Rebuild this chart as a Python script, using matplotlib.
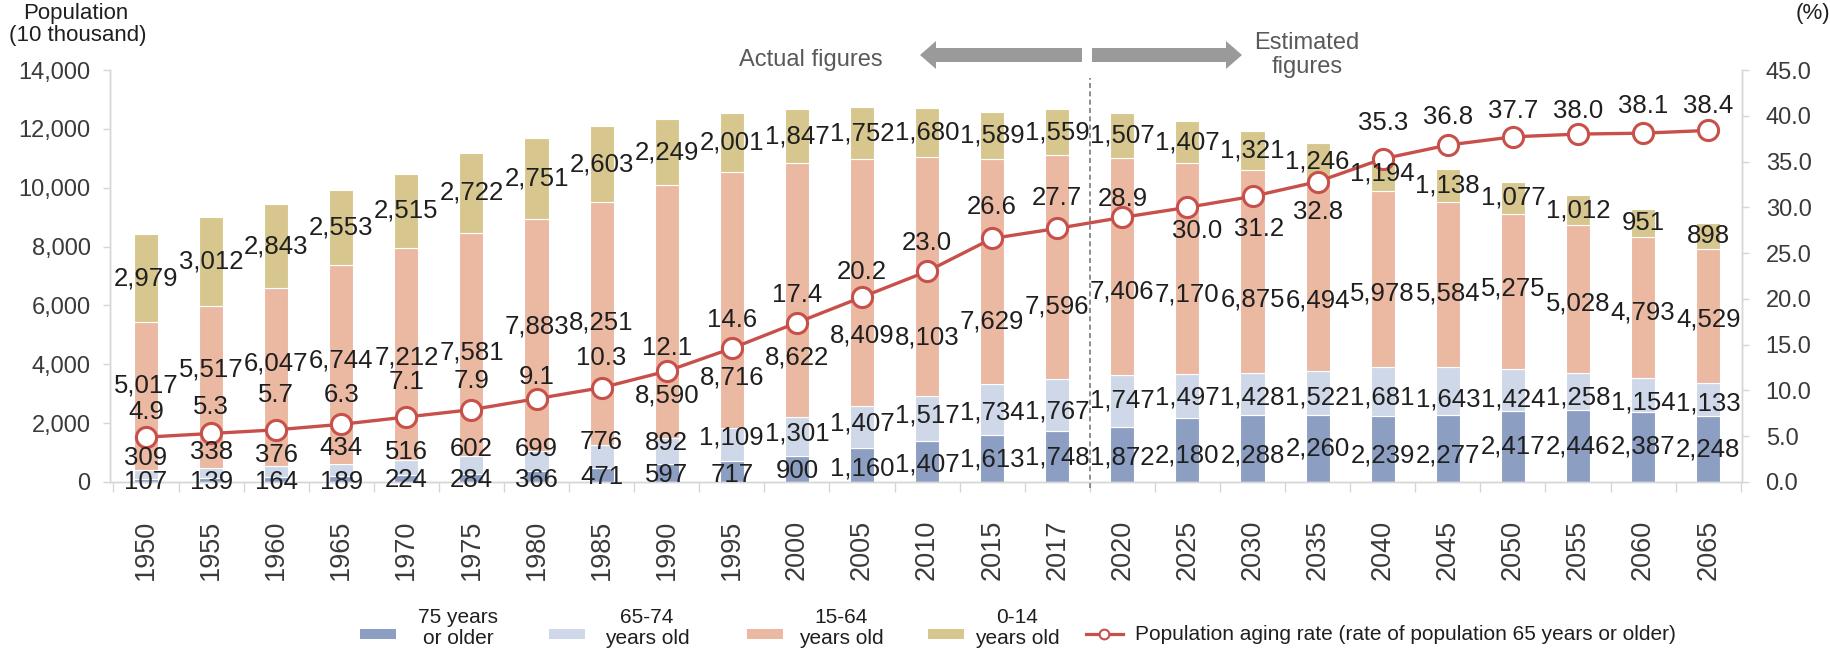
import matplotlib
matplotlib.use("Agg")
import numpy as np
import matplotlib.pyplot as plt
from matplotlib.patches import Rectangle, FancyArrow
from matplotlib.lines import Line2D
from matplotlib.ticker import FuncFormatter

plt.rcParams['font.family'] = ['Liberation Sans', 'DejaVu Sans']

# ---- data (population in 10 thousand, rate in %) ----
years = ["1950", "1955", "1960", "1965", "1970", "1975", "1980", "1985", "1990",
         "1995", "2000", "2005", "2010", "2015", "2017", "2020", "2025", "2030",
         "2035", "2040", "2045", "2050", "2055", "2060", "2065"]
age_75_plus = [107, 139, 164, 189, 224, 284, 366, 471, 597, 717, 900, 1160, 1407,
               1613, 1748, 1872, 2180, 2288, 2260, 2239, 2277, 2417, 2446, 2387, 2248]
age_65_74 = [309, 338, 376, 434, 516, 602, 699, 776, 892, 1109, 1301, 1407, 1517,
             1734, 1767, 1747, 1497, 1428, 1522, 1681, 1643, 1424, 1258, 1154, 1133]
age_15_64 = [5017, 5517, 6047, 6744, 7212, 7581, 7883, 8251, 8590, 8716, 8622, 8409,
             8103, 7629, 7596, 7406, 7170, 6875, 6494, 5978, 5584, 5275, 5028, 4793, 4529]
age_0_14 = [2979, 3012, 2843, 2553, 2515, 2722, 2751, 2603, 2249, 2001, 1847, 1752,
            1680, 1589, 1559, 1507, 1407, 1321, 1246, 1194, 1138, 1077, 1012, 951, 898]
aging_rate = [4.9, 5.3, 5.7, 6.3, 7.1, 7.9, 9.1, 10.3, 12.1, 14.6, 17.4, 20.2, 23.0,
              26.6, 27.7, 28.9, 30.0, 31.2, 32.8, 35.3, 36.8, 37.7, 38.0, 38.1, 38.4]

# ---- value-label placement (left-axis units / right-axis units) ----
lbl_y_15_64 = [3296, 3806, 4010, 4112, 4214, 4417, 5267, 5403, 2956, 3534, 4214, 4995,
               4927, 5437, 5947, 6490, 6388, 6218, 6184, 6422, 6422, 6592, 6082, 5743, 5505]
lbl_y_65_74 = [816, 1019, 917, 1155, 1019, 1121, 1121, 1359, 1325, 1529, 1665, 1971,
               2243, 2345, 2379, 2786, 2888, 2888, 2888, 2888, 2820, 2820, 2888, 2718, 2684]
lbl_y_75_plus = [0, 0, 0, 0, 68, 68, 68, 170, 238, 238, 374, 442, 578, 748, 816, 816,
                 884, 884, 1155, 884, 884, 1223, 1223, 1223, 1121]
lbl_y_rate = [7.6, 8.2, 9.5, 9.5, 10.9, 11.0, 11.5, 13.5, 14.6, 17.7, 20.4, 22.9, 26.1,
              30.0, 31.0, 30.9, 27.4, 27.6, 29.5, 39.2, 39.9, 40.5, 40.5, 41.1, 41.1]
lbl_dx_rate = {16: 0.15, 17: 0.1}

# ---- style ----
c_75 = '#8c9fc2'
c_65 = '#cfd8e8'
c_15 = '#ebb8a2'
c_0 = '#d7c78e'
c_line = '#c8504a'
c_text = '#1f1f1f'
c_tick = '#3a3a3a'
c_axis = '#d6d6d6'
fs_val = 18.5
fs_tick = 17
fs_year = 19.5

W, H = 1831, 654
fig = plt.figure(figsize=(W / 100, H / 100), dpi=100)
ax = fig.add_axes([110 / W, (H - 482) / H, 1632 / W, 412 / H])
ax2 = ax.twinx()

x = np.arange(len(years))
bw = 0.37
b1 = np.array(age_75_plus)
b2 = b1 + np.array(age_65_74)
b3 = b2 + np.array(age_15_64)

ax.bar(x, age_75_plus, bw, color=c_75, edgecolor='white', linewidth=0.8)
ax.bar(x, age_65_74, bw, bottom=b1, color=c_65, edgecolor='white', linewidth=0.8)
ax.bar(x, age_15_64, bw, bottom=b2, color=c_15, edgecolor='white', linewidth=0.8)
ax.bar(x, age_0_14, bw, bottom=b3, color=c_0, edgecolor='white', linewidth=0.8)

ax2.plot(x, aging_rate, color=c_line, lw=2.4, marker='o', ms=14.5, mfc='white',
         mec=c_line, mew=2.2, zorder=3)

# value labels
for i in range(len(years)):
    kw = dict(ha='center', va='center', fontsize=fs_val, color=c_text,
              transform=ax.transData, zorder=5)
    ax2.text(x[i], b3[i] + age_0_14[i] / 2, f"{age_0_14[i]:,}", **kw)
    ax2.text(x[i], lbl_y_15_64[i], f"{age_15_64[i]:,}", **kw)
    ax2.text(x[i], lbl_y_65_74[i], f"{age_65_74[i]:,}", **kw)
    ax2.text(x[i], lbl_y_75_plus[i], f"{age_75_plus[i]:,}", **kw)
    ax2.text(x[i] + lbl_dx_rate.get(i, 0), lbl_y_rate[i], f"{aging_rate[i]:.1f}",
             ha='center', va='center', fontsize=fs_val, color=c_text, zorder=5)

# axes
ax.set_xlim(-0.553, 24.52)
ax.set_ylim(0, 14000)
ax2.set_ylim(0, 45)
ax.set_yticks(range(0, 14001, 2000))
ax.yaxis.set_major_formatter(FuncFormatter(lambda v, p: f"{int(v):,}"))
ax2.set_yticks(np.arange(0, 45.1, 5))
ax2.yaxis.set_major_formatter(FuncFormatter(lambda v, p: f"{v:.1f}"))

ax.set_xticks(x)
ax.set_xticklabels(years, rotation=90)
ax.set_xticks(np.arange(-0.5, 24.6, 1), minor=True)
ax.tick_params(axis='x', which='major', length=0, pad=27, labelsize=fs_year,
               labelcolor=c_tick)
ax.tick_params(axis='x', which='minor', length=7, width=1, color=c_axis)
ax.tick_params(axis='y', length=5, width=1, color=c_axis, pad=9, labelsize=fs_tick,
               labelcolor=c_tick)
ax2.tick_params(axis='y', length=5, width=1, color=c_axis, pad=12, labelsize=fs_tick,
                labelcolor=c_tick)

for a in (ax, ax2):
    a.spines['top'].set_visible(False)
    for s in ('left', 'right', 'bottom'):
        a.spines[s].set_color(c_axis)
        a.spines[s].set_linewidth(1)

# boundary between actual and estimated figures
ax.axvline(14.5, ymin=-0.015, ymax=0.98, color='#7a7a7a', lw=1.2, ls=(0, (3, 2)),
           clip_on=False, zorder=4)

# ---- annotations in figure pixel space ----
ov = fig.add_axes([0, 0, 1, 1])
ov.set_xlim(0, W)
ov.set_ylim(H, 0)
ov.axis('off')
ov.patch.set_visible(False)

ov.text(76, 13, "Population", ha='center', va='center', fontsize=16, color=c_text)
ov.text(78, 35, "(10 thousand)", ha='center', va='center', fontsize=16, color=c_text)
ov.text(1813, 13, "(%)", ha='center', va='center', fontsize=16, color=c_text)

ov.text(811, 60, "Actual figures", ha='center', va='center', fontsize=17, color='#595959')
ov.text(1307, 55, "Estimated\nfigures", ha='center', va='center', fontsize=17,
        color='#595959', linespacing=1.15)
ov.add_patch(FancyArrow(1082, 55, -162, 0, width=14, head_width=28, head_length=16,
                        length_includes_head=True, color='#9a9a9a', lw=0))
ov.add_patch(FancyArrow(1092, 55, 150, 0, width=14, head_width=28, head_length=16,
                        length_includes_head=True, color='#9a9a9a', lw=0))

# legend
leg_y = 634
leg_items = [(360, 458, "75 years\nor older", c_75),
             (549, 647, "65-74\nyears old", c_65),
             (747, 841, "15-64\nyears old", c_15),
             (928, 1017, "0-14\nyears old", c_0)]
for px, tx, lab, col in leg_items:
    ov.add_patch(Rectangle((px, leg_y - 5), 36, 10, color=col, lw=0))
    ov.text(tx, leg_y - 6, lab, ha='center', va='center', fontsize=15, color=c_text,
            linespacing=1.15, multialignment='center')
ov.add_line(Line2D([1086, 1123], [leg_y, leg_y], color=c_line, lw=2.3))
ov.add_line(Line2D([1104.5], [leg_y], marker='o', ms=7, mfc='white', mec=c_line, mew=1.5))
ov.text(1135, leg_y, "Population aging rate (rate of population 65 years or older)",
        ha='left', va='center', fontsize=15, color=c_text)

fig.savefig("out.png", dpi=100)
